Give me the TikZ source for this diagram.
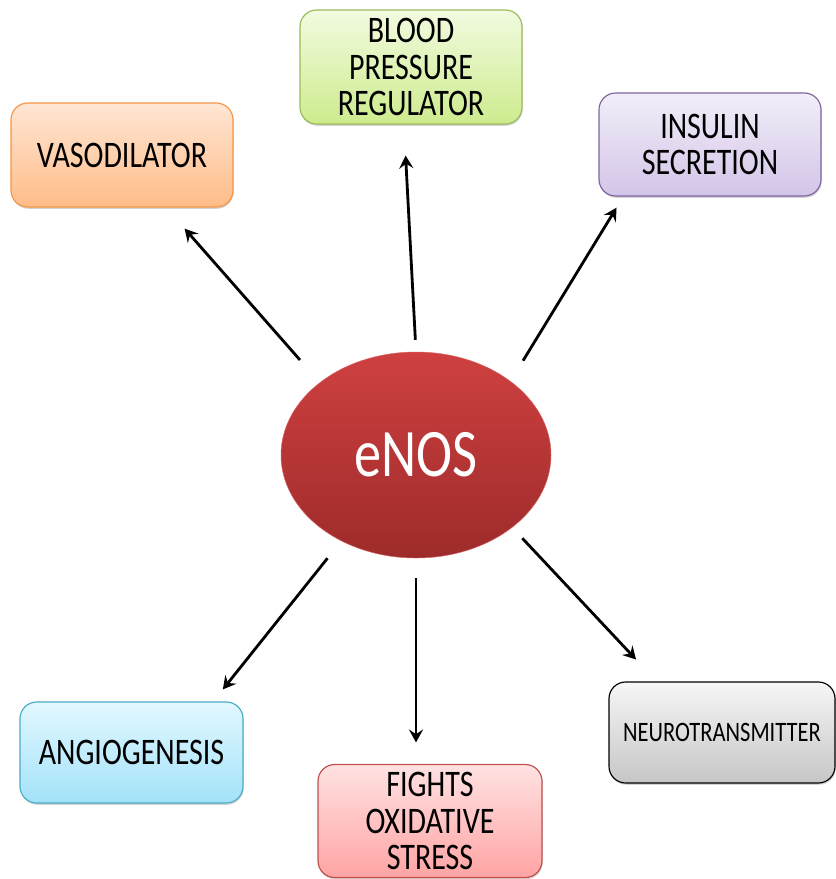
\documentclass[tikz,border=0pt]{standalone}
\usepackage{fontspec}
\setmainfont{Carlito}[FakeStretch=0.8]
\usetikzlibrary{shapes.geometric,arrows.meta,shadows}

\definecolor{vasoTop}{HTML}{FFE6D4}
\definecolor{vasoBot}{HTML}{FFBC88}
\definecolor{vasoLine}{HTML}{F79646}
\definecolor{bloodTop}{HTML}{F2FBE0}
\definecolor{bloodBot}{HTML}{CDEB8E}
\definecolor{bloodLine}{HTML}{9BBB59}
\definecolor{insTop}{HTML}{F2EEF8}
\definecolor{insBot}{HTML}{D3C5E8}
\definecolor{insLine}{HTML}{8064A2}
\definecolor{neuTop}{HTML}{F6F6F6}
\definecolor{neuBot}{HTML}{C6C6C6}
\definecolor{oxTop}{HTML}{FFE2E2}
\definecolor{oxBot}{HTML}{FFA4A4}
\definecolor{oxLine}{HTML}{C0504D}
\definecolor{angTop}{HTML}{E2F8FF}
\definecolor{angBot}{HTML}{A3E2F9}
\definecolor{angLine}{HTML}{4BACC6}
\definecolor{enosTop}{HTML}{CF4040}
\definecolor{enosBot}{HTML}{9E2B2B}

\begin{document}
\begin{tikzpicture}[x=0.03cm, y=-0.03cm,
  box/.style={rectangle, rounded corners=0.5cm, line width=1pt,
    minimum width=6.66cm, align=center, inner sep=2pt,
    font=\fontsize{32}{31}\selectfont,
    drop shadow={shadow xshift=0.6pt, shadow yshift=-1.5pt, opacity=0.35}},
  link/.style={line width=2.4pt, -{Stealth[length=11pt, width=12pt, inset=4pt]}}]
\useasboundingbox (0,0) rectangle (835,879);

% Centre
\node[ellipse, minimum width=8.1cm, minimum height=6.18cm, inner sep=0pt,
  top color=enosTop, bottom color=enosBot, draw=enosTop!80!white,
  text=white, font=\fontsize{58}{60}\selectfont] (enos) at (416,455) {eNOS};

% Effects
\node[box, minimum height=3.12cm, top color=vasoTop, bottom color=vasoBot,
  draw=vasoLine] (vaso) at (122,155) {VASODILATOR};
\node[box, minimum height=3.42cm, top color=bloodTop, bottom color=bloodBot,
  draw=bloodLine] (blood) at (411,67) {BLOOD\\PRESSURE\\REGULATOR};
\node[box, minimum height=3.09cm, top color=insTop, bottom color=insBot,
  draw=insLine] (insulin) at (710,144.5) {INSULIN\\SECRETION};
\node[box, minimum width=6.78cm, minimum height=3.03cm, top color=neuTop,
  bottom color=neuBot, draw=black, font=\fontsize{24}{26}\selectfont]
  (neuro) at (722,732.5) {NEUROTRANSMITTER};
\node[box, minimum width=6.72cm, minimum height=3.39cm, top color=oxTop,
  bottom color=oxBot, draw=oxLine] (oxid) at (430,821) {FIGHTS\\OXIDATIVE\\STRESS};
\node[box, minimum width=6.69cm, minimum height=3.03cm, top color=angTop,
  bottom color=angBot, draw=angLine] (angio) at (131.5,752.5) {ANGIOGENESIS};

% Arrows
\draw[link, shorten <=0.9cm, shorten >=0.84cm] (enos.143.1) -- (vaso.310.7);
\draw[link, shorten <=0.36cm, shorten >=0.93cm] (enos.north) -- (blood.263.5);
\draw[link, shorten <=0.72cm, shorten >=0.39cm] (enos.38.7) -- (insulin.211.2);
\draw[link, shorten <=0.66cm, shorten >=0.46cm] (enos.229.1) -- (angio.32);
\draw[link, shorten <=0.6cm, shorten >=0.645cm] (enos.south) -- (enos.south |- oxid.north);
\draw[link, shorten <=0.44cm, shorten >=0.9cm] (enos.323) -- (neuro.142.3);
\end{tikzpicture}
\end{document}
